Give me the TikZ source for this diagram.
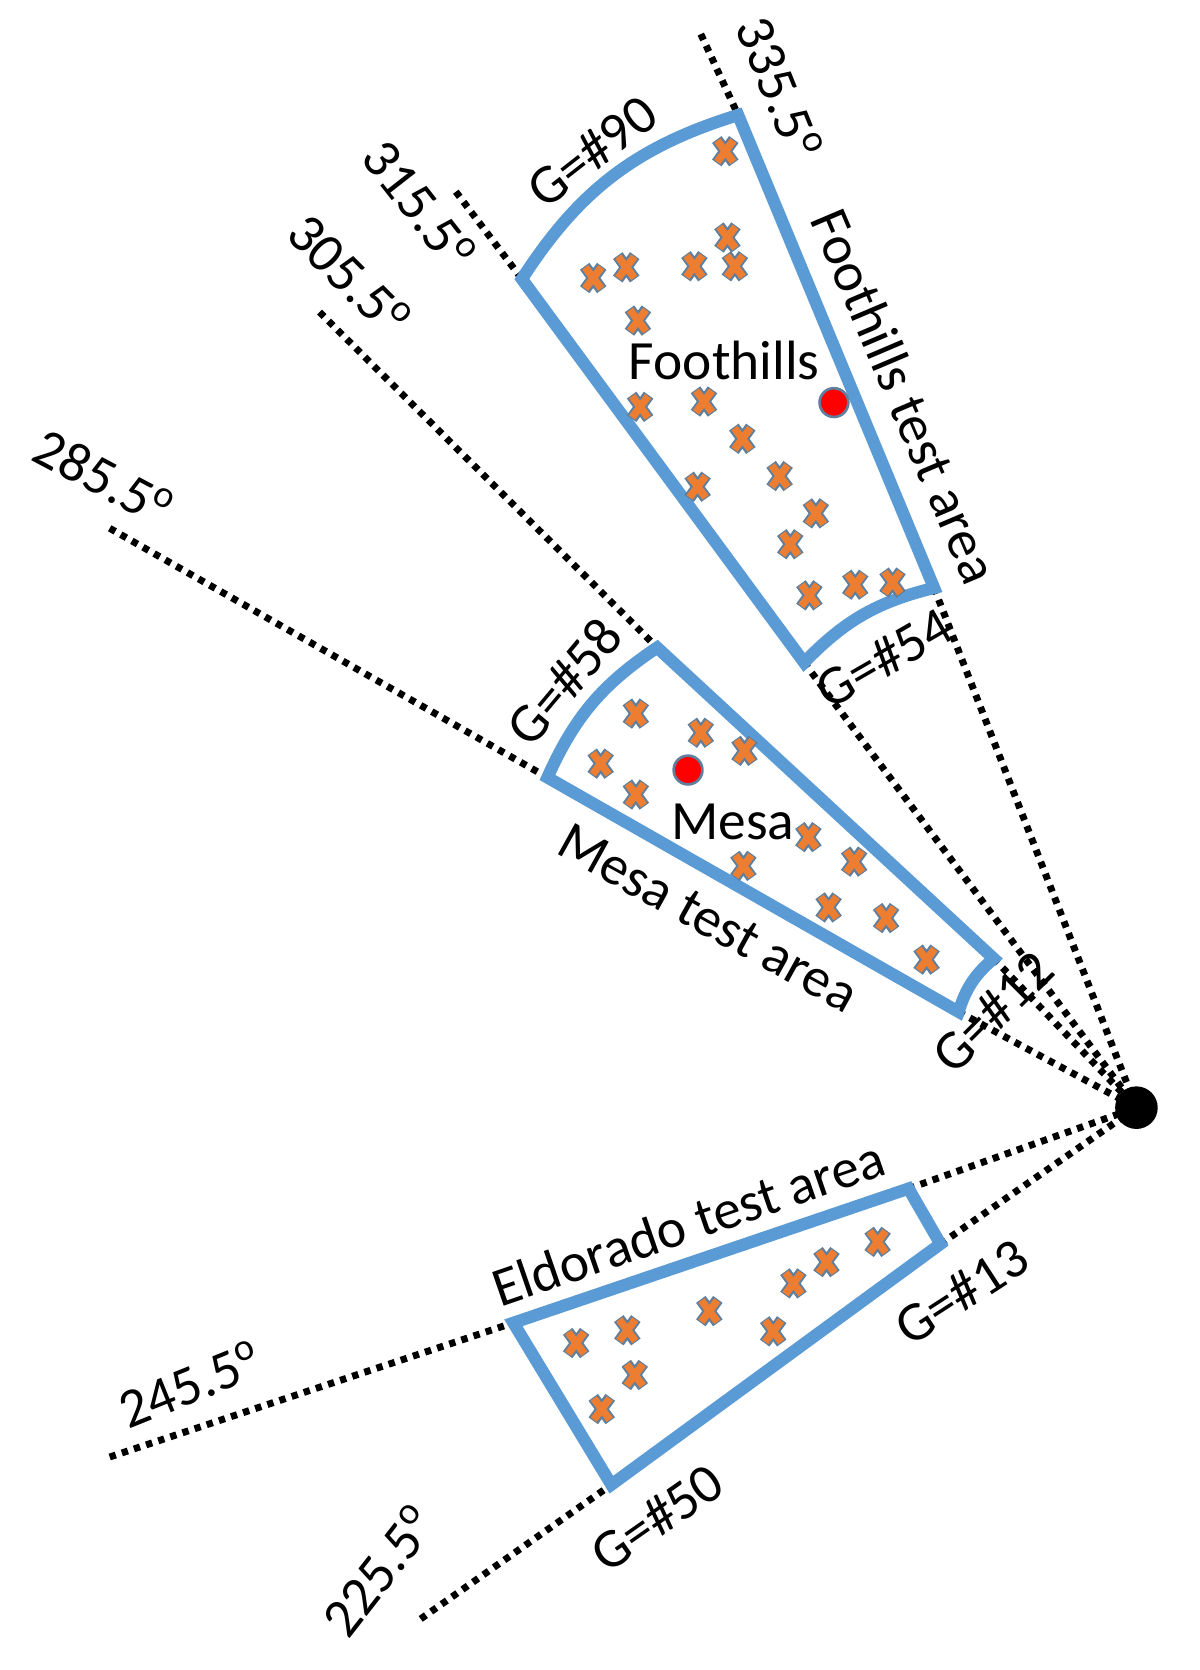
\documentclass[tikz,border=0pt]{standalone}
\usepackage{fontspec}
\setmainfont{Carlito}
\definecolor{secblue}{HTML}{5B9BD5}
\definecolor{mkorange}{HTML}{ED7D31}
\definecolor{mkedge}{HTML}{5F7F9C}
\tikzset{
  sector/.style={draw=secblue,line width=11.5pt,line join=miter,miter limit=10},
  ray/.style={draw=black,line width=6.5pt,dash pattern=on 6pt off 6pt},
  lab/.style={font=\fontsize{52}{52}\selectfont,inner sep=0pt},
  redpt/.style={circle,fill=red,draw=mkedge,line width=2.5pt,minimum size=27pt,inner sep=0pt},
}
\newcommand{\mkr}[2]{%
  \begin{scope}[shift={(#1,#2)}]
    \draw[mkedge,line width=11pt] (-8,-11)--(8,11) (-8,11)--(8,-11);
    \draw[mkorange,line width=7pt] (-7.5,-10)--(7.5,10) (-7.5,10)--(7.5,-10);
  \end{scope}}
\newcommand{\dg}{\raisebox{0.36em}{\fontsize{36}{36}\selectfont o}}
\begin{document}
\begin{tikzpicture}[x=1pt,y=-1pt]
\useasboundingbox (0,0) rectangle (1126.7,1568);
\node[circle,fill=black,minimum size=40pt,inner sep=0pt] (apex) at (1067,1040) {};
\coordinate (fa) at (693,108);
\coordinate (fb) at (490,262);
\coordinate (fc) at (755,622);
\coordinate (fd) at (877,552);
\coordinate (ma) at (617,608);
\coordinate (mb) at (514,730);
\coordinate (mc) at (900,950);
\coordinate (md) at (933,900);
\coordinate (ea) at (482,1242);
\coordinate (eb) at (853,1116);
\coordinate (ec) at (883,1168);
\coordinate (ed) at (574,1394);
\coordinate (r1) at (658,32);
\coordinate (r2) at (428,180);
\coordinate (r3) at (300,293);
\coordinate (r4) at (103,496);
\coordinate (r5) at (103,1368);
\coordinate (r6) at (395,1520);
% rays
\draw[ray] (r1)--(fa) (fd)--(apex.center);
\draw[ray] (r2)--(fb) (fc)--(apex.center);
\draw[ray] (r3)--(ma) (md)--(apex.center);
\draw[ray] (r4)--(mb) (mc)--(apex.center);
\draw[ray] (r5)--(ea) (eb)--(apex.center);
\draw[ray] (r6)--(ed) (ec)--(apex.center);
% sectors
\draw[sector] (fb) to[bend left=20] (fa) -- (fd) to[bend right=16] (fc) -- cycle;
\draw[sector] (mb) to[bend left=16] (ma) -- (md) to[bend right=16] (mc) -- cycle;
\draw[sector] (ea) -- (eb) -- (ec) -- (ed) -- cycle;
% markers
\foreach \a/\b in {681/142,683/223,652/250,690/250,557/261,588/251,599/301,601/382,661/377,697/412,732/447,655/457,766/482,742/511,760/559,803/549,838/547,
  597/670,658/688,699/705,564/717,597/746,759/786,802/809,698/813,778/852,832/862,870/901,
  824/1166,776/1185,745/1205,666/1231,726/1250,589/1249,541/1261,596/1291,565/1323}
{\mkr{\a}{\b}}
\node[redpt] (redf) at (783,378) {};
\node[redpt] (redm) at (646,723) {};
% labels
\node[lab,rotate=-68] (t1) at (732,82) {335.5\dg};
\node[lab,rotate=-52] (t2) at (394,192) {315.5\dg};
\node[lab,rotate=-45] (t3) at (328,258) {305.5\dg};
\node[lab,rotate=-28] (t4) at (97,448) {285.5\dg};
\node[lab,rotate=22] (t5) at (178,1300) {245.5\dg};
\node[lab,rotate=52] (t6) at (355,1475) {225.5\dg};
\node[lab,rotate=38] (g1) at (556,142) {G=\#90};
\node[lab,rotate=50] (g2) at (530,640) {G=\#58};
\node[lab,rotate=30] (g3) at (830,618) {G=\#54};
\node[lab,rotate=45] (g4) at (932,950) {G=\#12};
\node[lab,rotate=33] (g5) at (903,1213) {G=\#13};
\node[lab,rotate=35] (g6) at (617,1425) {G=\#50};
\node[lab] (n1) at (680,338) {Foothills};
\node[lab] (n2) at (688,772) {Mesa};
\node[lab,rotate=-67] (a1) at (850,372) {Foothills test area};
\node[lab,rotate=-29] (a2) at (665,862) {Mesa test area};
\node[lab,rotate=19] (a3) at (646,1148) {Eldorado test area};
\end{tikzpicture}
\end{document}
